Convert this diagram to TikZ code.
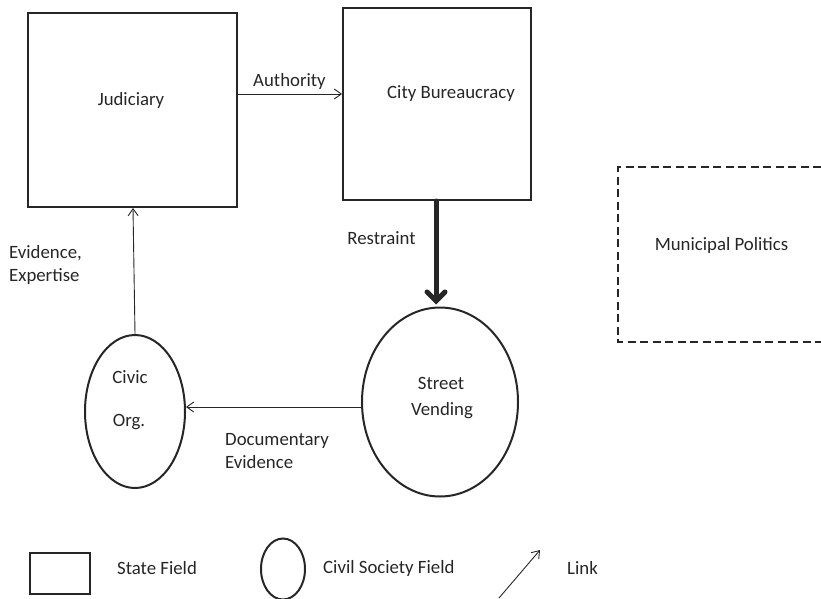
\documentclass[tikz,border=0pt]{standalone}
\usepackage{fontspec}
\setmainfont{Carlito}
\usetikzlibrary{arrows.meta,shapes.geometric}
\begin{document}
\begin{tikzpicture}[x=1pt,y=-1pt,
  lbl/.style={font=\fontsize{18.8}{22}\selectfont, text=black!85, inner sep=0pt},
  statebox/.style={draw=black!85, line width=2pt, inner sep=0pt},
  civ/.style={draw=black!85, line width=2pt, ellipse, inner sep=0pt},
  link/.style={draw=black!85, line width=0.9pt, -{Straight Barb[length=7pt,width=10pt]}},
  thick link/.style={draw=black!85, line width=5pt, line cap=round, -{Straight Barb[length=9pt,width=18pt,line cap=round]}}]
\useasboundingbox (0,0) rectangle (821,599);
% boxes
\node[statebox, minimum width=209pt, minimum height=194pt] (jud) at (132.5,110) {};
\node[lbl] (judt) at (131,100) {Judiciary};
\node[statebox, minimum width=188pt, minimum height=192pt] (city) at (437,104) {};
\node[lbl] (cityt) at (451,94) {City Bureaucracy};
\draw[draw=black!85, line width=2pt, dash pattern=on 8pt off 4.5pt] (821,167) -- (618,167) -- (618,342) -- (821,342);
\node[lbl] (mun) at (721.5,245) {Municipal Politics};
% ellipses
\node[civ, minimum width=156pt, minimum height=189pt] (sv) at (440,402) {};
\node[lbl] (svt1) at (441,383) {Street};
\node[lbl] (svt2) at (442,411) {Vending};
\node[civ, minimum width=100pt, minimum height=153pt] (civ) at (135,411.5) {};
\node[lbl] (civt1) at (130,377) {Civic};
\node[lbl] (civt2) at (129,422) {Org.};
% connectors
\coordinate (a1) at (jud.east |- 0,94);
\coordinate (a2) at (city.west |- 0,94);
\draw[link] (a1) -- (a2);
\node[lbl] (auth) at (289.5,81) {Authority};
\draw[thick link] (city.south -| 436,0) -- ([yshift=2pt]sv.north -| 436,0);
\node[lbl] (res) at (381.5,238) {Restraint};
\draw[link] (civ.north) -- (jud.south -| 133,0);
\node[lbl, align=left, anchor=west] (ev) at (9,265) {Evidence,\\[1pt]Expertise};
\coordinate (d1) at (sv.west |- 0,407);
\draw[link] (d1) -- (civ.east |- 0,407);
\node[lbl, align=left, anchor=west] (doc) at (225,451.5) {Documentary\\[1pt]Evidence};
% legend
\node[statebox, minimum width=60pt, minimum height=41pt] (lbox) at (60,573.5) {};
\node[lbl, anchor=west] (lt1) at (117,568) {State Field};
\node[civ, minimum width=44pt, minimum height=61pt] (lell) at (283,569) {};
\node[lbl, anchor=west] (lt2) at (323,568) {Civil Society Field};
\coordinate (l1) at (499,598);
\coordinate (l2) at (540,550);
\draw[link] (l1) -- (l2);
\node[lbl, anchor=west] (lt3) at (567,568) {Link};
\end{tikzpicture}
\end{document}
